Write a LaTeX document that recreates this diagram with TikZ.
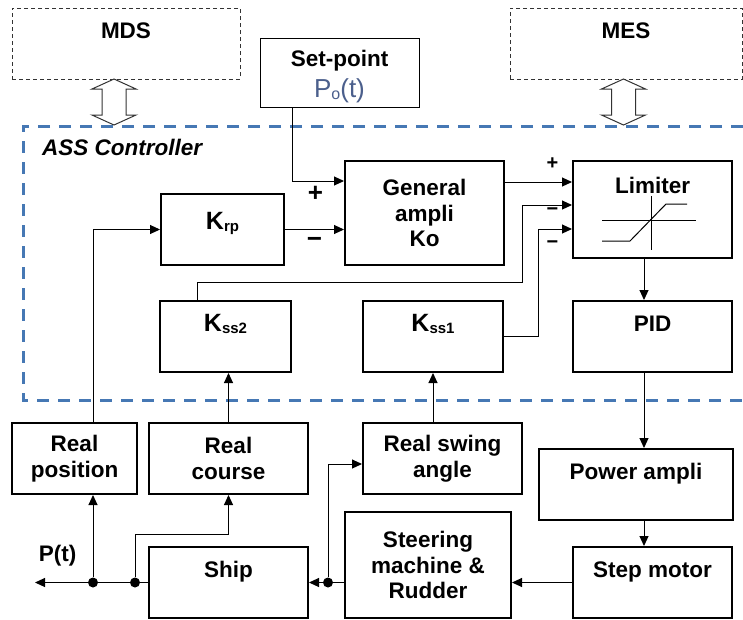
\documentclass[tikz,border=0pt]{standalone}
\usepackage{fontspec}
\setmainfont{Liberation Sans}
\usetikzlibrary{arrows.meta}

\definecolor{assblue}{RGB}{70,120,180}
\definecolor{setblue}{RGB}{75,95,140}

% gain with subscript, as in K_rp
\newcommand{\Kgain}[1]{{\fontsize{25}{25}\selectfont K}\raisebox{-2pt}{\fontsize{15}{15}\selectfont #1}}
% hollow two-way arrow below an external box
\newcommand{\hollowarrow}[1]{%
  \draw[line width=1pt, draw=black!80, fill=white] (#1,79) -- ++(22,10) -- ++(-10,0) -- ++(0,26) -- ++(10,0)
    -- ++(-22,10) -- ++(-22,-10) -- ++(10,0) -- ++(0,-26) -- ++(-10,0) -- cycle;}

\tikzset{
  blk/.style={draw, line width=2pt, minimum width=159pt, minimum height=71pt, inner sep=0pt,
    align=center, font=\bfseries\fontsize{22.5}{25.5}\selectfont},
  blktop/.style={blk, text height=16pt, text depth=27pt},
  gainbox/.style={blk, text height=18pt, text depth=29pt},
  extbox/.style={blktop, draw=black!80, line width=1pt, dash pattern=on 4pt off 3pt},
  sig/.style={font=\bfseries\fontsize{26}{26}\selectfont, inner sep=0pt},
  sigs/.style={font=\bfseries\fontsize{20}{20}\selectfont, inner sep=0pt},
  con/.style={line width=1pt},
  arr/.style={con, -{Triangle[length=10pt,width=9pt]}},
  junc/.style={circle, fill, inner sep=0pt, minimum size=10pt},
}

\begin{document}
\begin{tikzpicture}[x=1pt, y=-1pt]
    \useasboundingbox (0,0) rectangle (743,619);

    % outside systems
    \node[extbox, minimum width=228pt] (mds) at (126,43.5) {MDS};
    \node[extbox, minimum width=232pt] (mes) at (626,43.5) {MES};
    \hollowarrow{114}
    \hollowarrow{623.5}
    \node[blk, line width=1pt, minimum height=69pt] (setp) at (339.5,72.5)
        {\rule{0pt}{24pt}Set-point\\[6pt]{\mdseries\color{setblue}\fontsize{26}{26}\selectfont P\raisebox{-2pt}{\fontsize{16}{16}\selectfont o}(t)}};

    % controller frame
    \draw[assblue, line width=3pt, dash pattern=on 12pt off 9pt] (743,126) -- (23,126) -- (23,400) -- (743,400);
    \node[anchor=base west, inner sep=0pt, font=\bfseries\itshape\fontsize{22.5}{25}\selectfont] (ass) at (42,155) {ASS Controller};

    % controller blocks
    \node[gainbox, minimum width=123pt, text depth=19pt] (krp) at (222.5,229.5) {\Kgain{rp}};
    \node[blk, minimum height=104pt] (gen) at (424.5,213) {General\\ampli\\Ko};
    \node[blk, minimum height=97pt, text height=16pt, text depth=49pt] (lim) at (652.5,209.5) {Limiter};
    \node[gainbox, minimum width=131pt] (kss2) at (225.5,336.5) {\Kgain{ss2}};
    \node[gainbox, minimum width=140pt] (kss1) at (433,336.5) {\Kgain{ss1}};
    \node[blktop] (pid) at (652.5,336.5) {PID};

    % limiter characteristic
    \draw[con] (602,220.5) -- (696,220.5);
    \draw[con] (651,196) -- (651,250);
    \draw[con] (602,241) -- (630,241) -- (666,204) -- (687,204);

    % plant side
    \node[blk, minimum width=125pt] (rpos) at (74.5,458.5) {Real\\position};
    \node[blk] (rcou) at (228.5,458.5) {Real\\course};
    \node[blk] (rswg) at (442.5,458.5) {Real swing\\angle};
    \node[blktop, minimum width=194pt] (pamp) at (636,484.5) {Power ampli};
    \node[blk, minimum width=166pt, minimum height=106pt] (steer) at (428,565) {Steering\\machine \&\\Rudder};
    \node[blktop] (smot) at (652.5,582.5) {Step motor};
    \node[blktop] (ship) at (228.5,582.5) {Ship};

    % helper points
    \coordinate (sp) at (292,181);
    \coordinate (g1) at (0,182);
    \coordinate (k2a) at (197,282);
    \coordinate (k2b) at (522,282);
    \coordinate (k2c) at (0,205);
    \coordinate (k1) at (538,229);
    \coordinate (px) at (644,0);
    \coordinate (sw) at (0,464);
    \coordinate (rc) at (0,534);
    \coordinate (pout) at (35,582.5);
    \node[junc] (d1) at (328,582.5) {};
    \node[junc] (d2) at (135,582.5) {};
    \node[junc] (d3) at (93,582.5) {};

    % summing into general ampli
    \draw[arr] (setp.south -| sp) |- (gen.west |- sp);
    \draw[arr] (krp.east) -- (gen.west |- krp.east);
    \node[sig] (p1) at (315.5,194) {+};
    \node[sig] (m1) at (314.5,242) {−};

    % summing into limiter
    \draw[arr] (gen.east |- g1) -- (lim.west |- g1);
    \draw[arr] (kss2.north -| k2a) |- (k2b) |- (lim.west |- k2c);
    \draw[arr] (kss1.east) -| (k1) -- (lim.west |- k1);
    \node[sigs] (p2) at (552.5,164) {+};
    \node[sigs] (m2) at (552.5,212) {−};
    \node[sigs] (m3) at (552.5,245) {−};

    % forward path
    \draw[arr] (lim.south -| px) -- (pid.north -| px);
    \draw[arr] (pid.south -| px) -- (pamp.north -| px);
    \draw[arr] (pamp.south -| px) -- (smot.north -| px);
    \draw[arr] (smot.west) -- (steer.east |- smot.west);
    \draw[arr] (steer.west |- ship.east) -- (ship.east);
    \draw[arr] (ship.west) -- (pout);
    \node[anchor=center, inner sep=0pt, font=\bfseries\fontsize{22.5}{25}\selectfont] (pt) at (57.5,556) {P(t)};

    % feedback
    \draw[arr] (d1) |- (rswg.west |- sw);
    \draw[arr] (d3) -- (rpos.south -| d3);
    \draw[arr] (d2) |- (rcou.south |- rc) -- (rcou.south);
    \draw[arr] (rpos.north -| d3) |- (krp.west);
    \draw[arr] (rcou.north) -- (rcou.north |- kss2.south);
    \draw[arr] (kss1.south |- rswg.north) -- (kss1.south);
\end{tikzpicture}
\end{document}
